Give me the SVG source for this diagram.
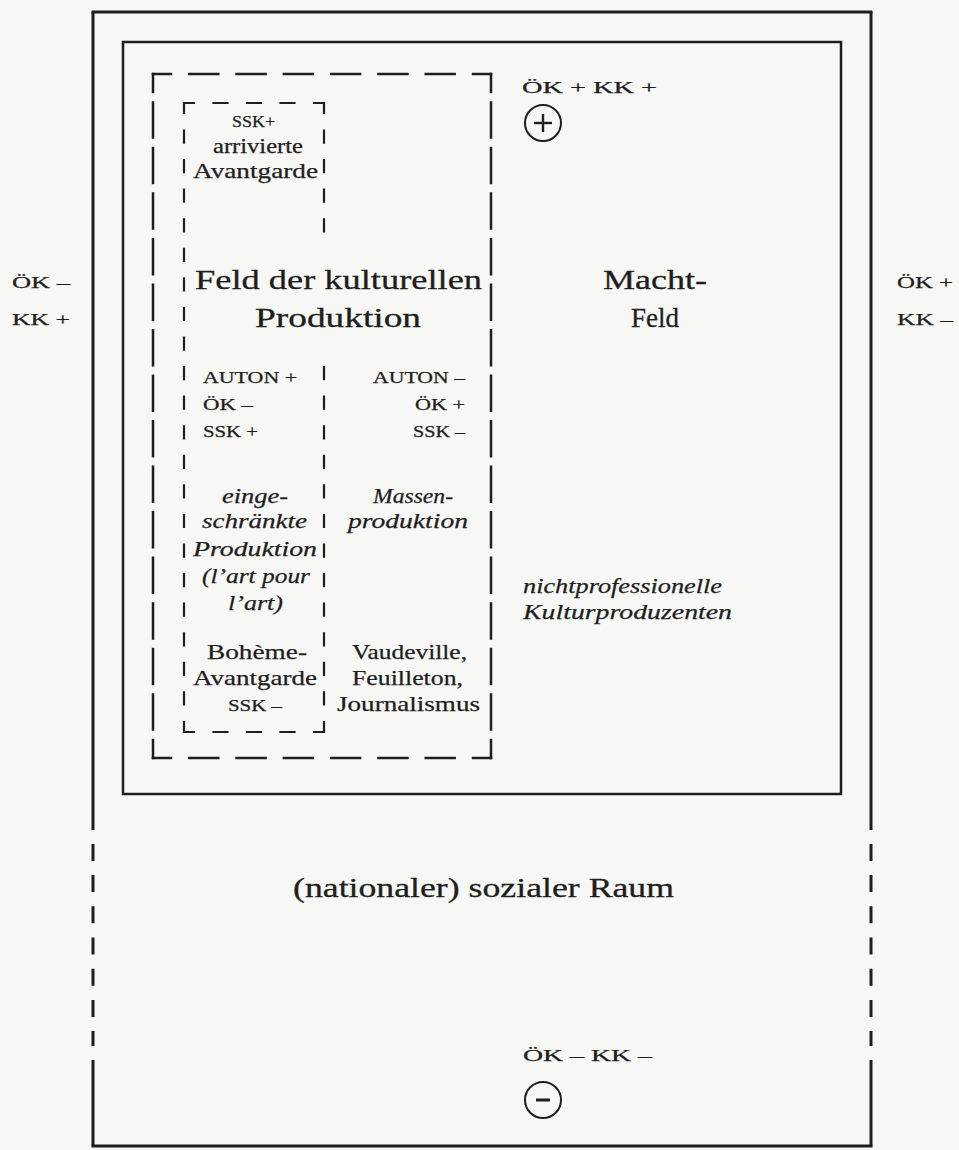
<svg xmlns="http://www.w3.org/2000/svg" width="959" height="1150" viewBox="0 0 959 1150">
<defs>
<style>
.bg{fill:#f7f7f5}
.solid{fill:none;stroke:#1e1e1e;stroke-width:3}
.inner{fill:none;stroke:#1e1e1e;stroke-width:2.5}
.dash{fill:none;stroke:#1e1e1e;stroke-width:2.5;stroke-linecap:square}
.dash2{fill:none;stroke:#1e1e1e;stroke-width:2.2;stroke-linecap:square}
text{font-family:"Liberation Serif","Times New Roman",serif;fill:#1e1e1e;stroke:#1e1e1e;stroke-width:0.25}
.big{font-size:28px;stroke-width:0.3}
.med{font-size:21px}
.it{font-size:21px;font-style:italic}
.sc{font-size:16px}
.sc2{font-size:17px}
.sym{fill:none;stroke:#1e1e1e;stroke-width:2}
</style>
</defs>
<rect class="bg" x="0" y="0" width="959" height="1150"/>

<g id="sozialer-raum">
  <line class="solid" x1="91.5" y1="12" x2="872.5" y2="12"/>
  <line class="solid" x1="91.5" y1="1146" x2="872.5" y2="1146"/>
  <line class="solid" x1="93" y1="12" x2="93" y2="830"/>
  <line class="solid" x1="93" y1="1060" x2="93" y2="1146"/>
  <line class="solid" x1="93" y1="843.9" x2="93" y2="1046.1" stroke-dasharray="17 14.2"/>
  <line class="solid" x1="871" y1="12" x2="871" y2="830"/>
  <line class="solid" x1="871" y1="1060" x2="871" y2="1146"/>
  <line class="solid" x1="871" y1="843.9" x2="871" y2="1046.1" stroke-dasharray="17 14.2"/>
  <text class="big" x="293" y="897" textLength="381" lengthAdjust="spacingAndGlyphs">(nationaler) sozialer Raum</text>
  <text class="sc2" x="523" y="1061" textLength="129" lengthAdjust="spacingAndGlyphs">ÖK – KK –</text>
  <circle class="sym" cx="543" cy="1100" r="18"/>
  <line x1="536" y1="1100" x2="550" y2="1100" stroke="#1e1e1e" stroke-width="3"/>
</g>

<g id="achsen-links">
  <text class="sc2" x="12" y="288" textLength="58" lengthAdjust="spacingAndGlyphs">ÖK –</text>
  <text class="sc2" x="12" y="325" textLength="58" lengthAdjust="spacingAndGlyphs">KK +</text>
</g>
<g id="achsen-rechts">
  <text class="sc2" x="897" y="288" textLength="56" lengthAdjust="spacingAndGlyphs">ÖK +</text>
  <text class="sc2" x="897" y="325" textLength="56" lengthAdjust="spacingAndGlyphs">KK –</text>
</g>

<g id="machtfeld">
  <rect class="inner" x="123" y="42" width="718" height="752"/>
  <text class="sc2" x="522" y="93" textLength="135" lengthAdjust="spacingAndGlyphs">ÖK + KK +</text>
  <circle class="sym" cx="543" cy="123" r="18"/>
  <line x1="534" y1="123" x2="552" y2="123" stroke="#1e1e1e" stroke-width="2.4"/>
  <line x1="543" y1="114" x2="543" y2="132" stroke="#1e1e1e" stroke-width="2.4"/>
  <text class="big" x="603" y="289" textLength="104" lengthAdjust="spacingAndGlyphs">Macht-</text>
  <text class="big" x="631" y="327" textLength="48" lengthAdjust="spacingAndGlyphs">Feld</text>
  <text class="it" x="523" y="593" textLength="199" lengthAdjust="spacingAndGlyphs">nichtprofessionelle</text>
  <text class="it" x="523" y="619" textLength="209" lengthAdjust="spacingAndGlyphs">Kulturproduzenten</text>
</g>

<g id="feld-kulturelle-produktion">
  <line class="dash" x1="153" y1="74" x2="491" y2="74" stroke-dasharray="29 18.286" stroke-dashoffset="11"/>
  <line class="dash" x1="153" y1="758" x2="491" y2="758" stroke-dasharray="29 18.286" stroke-dashoffset="11"/>
  <line class="dash" x1="153" y1="74" x2="153" y2="758" stroke-dasharray="35 10.533" stroke-dashoffset="17"/>
  <line class="dash" x1="491" y1="74" x2="491" y2="758" stroke-dasharray="35 10.533" stroke-dashoffset="17"/>
  <text class="big" x="195" y="289" textLength="287" lengthAdjust="spacingAndGlyphs">Feld der kulturellen</text>
  <text class="big" x="255" y="327" textLength="166" lengthAdjust="spacingAndGlyphs">Produktion</text>
  <text class="sc" x="373" y="383" textLength="92" lengthAdjust="spacingAndGlyphs">AUTON –</text>
  <text class="sc" x="415" y="410" textLength="50" lengthAdjust="spacingAndGlyphs">ÖK +</text>
  <text class="sc" x="413" y="437" textLength="52" lengthAdjust="spacingAndGlyphs">SSK –</text>
  <text class="it" x="373" y="503" textLength="80" lengthAdjust="spacingAndGlyphs">Massen-</text>
  <text class="it" x="348" y="528" textLength="120" lengthAdjust="spacingAndGlyphs">produktion</text>
  <text class="med" x="352" y="659" textLength="115" lengthAdjust="spacingAndGlyphs">Vaudeville,</text>
  <text class="med" x="352" y="685" textLength="111" lengthAdjust="spacingAndGlyphs">Feuilleton,</text>
  <text class="med" x="337" y="711" textLength="143" lengthAdjust="spacingAndGlyphs">Journalismus</text>
</g>

<g id="eingeschraenkte-produktion">
  <line class="dash2" x1="184" y1="103" x2="324" y2="103" stroke-dasharray="14 19.5" stroke-dashoffset="4"/>
  <line class="dash2" x1="184" y1="732" x2="324" y2="732" stroke-dasharray="14 19.5" stroke-dashoffset="4"/>
  <line class="dash2" x1="184" y1="103" x2="184" y2="732" stroke-dasharray="12 17.571" stroke-dashoffset="2"/>
  <line class="dash2" x1="324" y1="103" x2="324" y2="236" stroke-dasharray="12 17.571" stroke-dashoffset="2"/>
  <line class="dash2" x1="324" y1="732" x2="324" y2="362" stroke-dasharray="12 17.571" stroke-dashoffset="2"/>
  <text class="sc" x="232" y="127" textLength="43" lengthAdjust="spacingAndGlyphs">SSK+</text>
  <text class="med" x="213" y="153" textLength="90" lengthAdjust="spacingAndGlyphs">arrivierte</text>
  <text class="med" x="193" y="178" textLength="125" lengthAdjust="spacingAndGlyphs">Avantgarde</text>
  <text class="sc" x="203" y="383" textLength="94" lengthAdjust="spacingAndGlyphs">AUTON +</text>
  <text class="sc" x="203" y="410" textLength="50" lengthAdjust="spacingAndGlyphs">ÖK –</text>
  <text class="sc" x="203" y="437" textLength="55" lengthAdjust="spacingAndGlyphs">SSK +</text>
  <text class="it" x="222" y="503" textLength="66" lengthAdjust="spacingAndGlyphs">einge-</text>
  <text class="it" x="202" y="528" textLength="105" lengthAdjust="spacingAndGlyphs">schränkte</text>
  <text class="it" x="193" y="556" textLength="124" lengthAdjust="spacingAndGlyphs">Produktion</text>
  <text class="it" x="202" y="583" textLength="108" lengthAdjust="spacingAndGlyphs">(l’art pour</text>
  <text class="it" x="228" y="610" textLength="55" lengthAdjust="spacingAndGlyphs">l’art)</text>
  <text class="med" x="207" y="659" textLength="100" lengthAdjust="spacingAndGlyphs">Bohème-</text>
  <text class="med" x="193" y="685" textLength="124" lengthAdjust="spacingAndGlyphs">Avantgarde</text>
  <text class="sc" x="228" y="711" textLength="54" lengthAdjust="spacingAndGlyphs">SSK –</text>
</g>

<g id="connectors"></g>
</svg>
